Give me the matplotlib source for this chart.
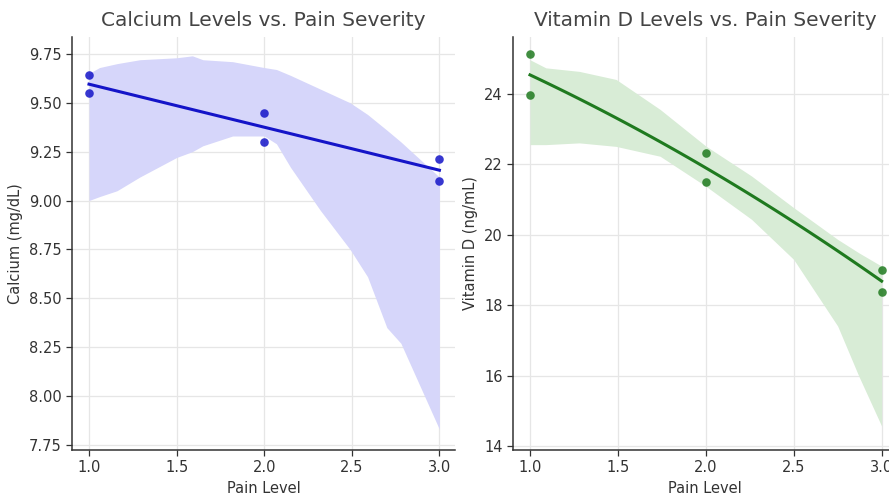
import numpy as np
import matplotlib
matplotlib.use("Agg")
import matplotlib.pyplot as plt

plt.rcParams["font.family"] = ["DejaVu Sans"]

# data
pain = [1, 1, 2, 2, 3, 3]
calcium = [9.64, 9.55, 9.45, 9.30, 9.21, 9.10]
vitamin_d = [25.12, 23.96, 22.31, 21.49, 19.00, 18.37]

# confidence band edges (as drawn in the reference)
ca_band_x = [1.0, 1.06, 1.16, 1.29, 1.5, 1.59, 1.65, 1.82, 2.0, 2.07, 2.15, 2.32, 2.49, 2.59, 2.70, 2.78, 2.89, 3.0]
ca_band_hi = [9.65, 9.68, 9.70, 9.72, 9.73, 9.74, 9.72, 9.71, 9.68, 9.67, 9.64, 9.57, 9.50, 9.44, 9.36, 9.30, 9.21, 9.12]
ca_band_lo = [9.00, 9.02, 9.05, 9.12, 9.22, 9.25, 9.28, 9.33, 9.33, 9.29, 9.17, 8.95, 8.75, 8.61, 8.35, 8.27, 8.05, 7.83]

vd_band_x = [1.0, 1.09, 1.28, 1.49, 1.74, 2.0, 2.26, 2.5, 2.75, 2.87, 3.0]
vd_band_hi = [24.97, 24.74, 24.64, 24.41, 23.56, 22.52, 21.67, 20.77, 19.87, 19.49, 19.11]
vd_band_lo = [22.56, 22.56, 22.61, 22.51, 22.23, 21.38, 20.44, 19.30, 17.41, 15.99, 14.57]

panels = [
    dict(y=calcium, bx=ca_band_x, lo=ca_band_lo, hi=ca_band_hi, color="#1414c8", band="#d6d6fa",
         title="Calcium Levels vs. Pain Severity", ylabel="Calcium (mg/dL)",
         ylim=(7.724, 9.837), yticks=[7.75, 8.0, 8.25, 8.5, 8.75, 9.0, 9.25, 9.5, 9.75], fmt="{:.2f}",
         rect=[0.081, 0.0927, 0.431, 0.833]),
    dict(y=vitamin_d, bx=vd_band_x, lo=vd_band_lo, hi=vd_band_hi, color="#1f7a1f", band="#d8ecd6",
         title="Vitamin D Levels vs. Pain Severity", ylabel="Vitamin D (ng/mL)",
         ylim=(13.89, 25.62), yticks=[14, 16, 18, 20, 22, 24], fmt="{:d}",
         rect=[0.577, 0.0927, 0.4325, 0.833]),
]

fig = plt.figure(figsize=(8.89, 4.96), dpi=100)
for p in panels:
    ax = fig.add_axes(p["rect"])
    ax.fill_between(p["bx"], p["lo"], p["hi"], color=p["band"], lw=0, zorder=1)
    coef = np.polyfit(pain, p["y"], 2)
    xs = np.linspace(1.0, 3.0, 50)
    ax.plot(xs, np.polyval(coef, xs), color=p["color"], lw=2.2, zorder=3)
    ax.scatter(pain, p["y"], color=p["color"], s=38, alpha=0.85, lw=0, zorder=4)
    ax.set_xlim(0.903, 3.09)
    ax.set_ylim(*p["ylim"])
    ax.set_xticks([1.0, 1.5, 2.0, 2.5, 3.0])
    ax.set_xticklabels(["1.0", "1.5", "2.0", "2.5", "3.0"])
    ax.set_yticks(p["yticks"])
    ax.set_yticklabels([p["fmt"].format(v) for v in p["yticks"]])
    ax.grid(color="#e6e6e6", lw=0.9, zorder=0)
    ax.set_axisbelow(True)
    for s in ["top", "right"]:
        ax.spines[s].set_visible(False)
    for s in ["left", "bottom"]:
        ax.spines[s].set_color("#333333")
        ax.spines[s].set_linewidth(1.1)
    ax.tick_params(labelsize=10.5, colors="#333333", length=4, width=0.9)
    ax.set_title(p["title"], fontsize=14.5, color="#444444", pad=8)
    ax.set_xlabel("Pain Level", fontsize=10.5, color="#333333", labelpad=4)
    ax.set_ylabel(p["ylabel"], fontsize=10.5, color="#333333", labelpad=4)

fig.savefig("out.png", dpi=100, facecolor="white")
